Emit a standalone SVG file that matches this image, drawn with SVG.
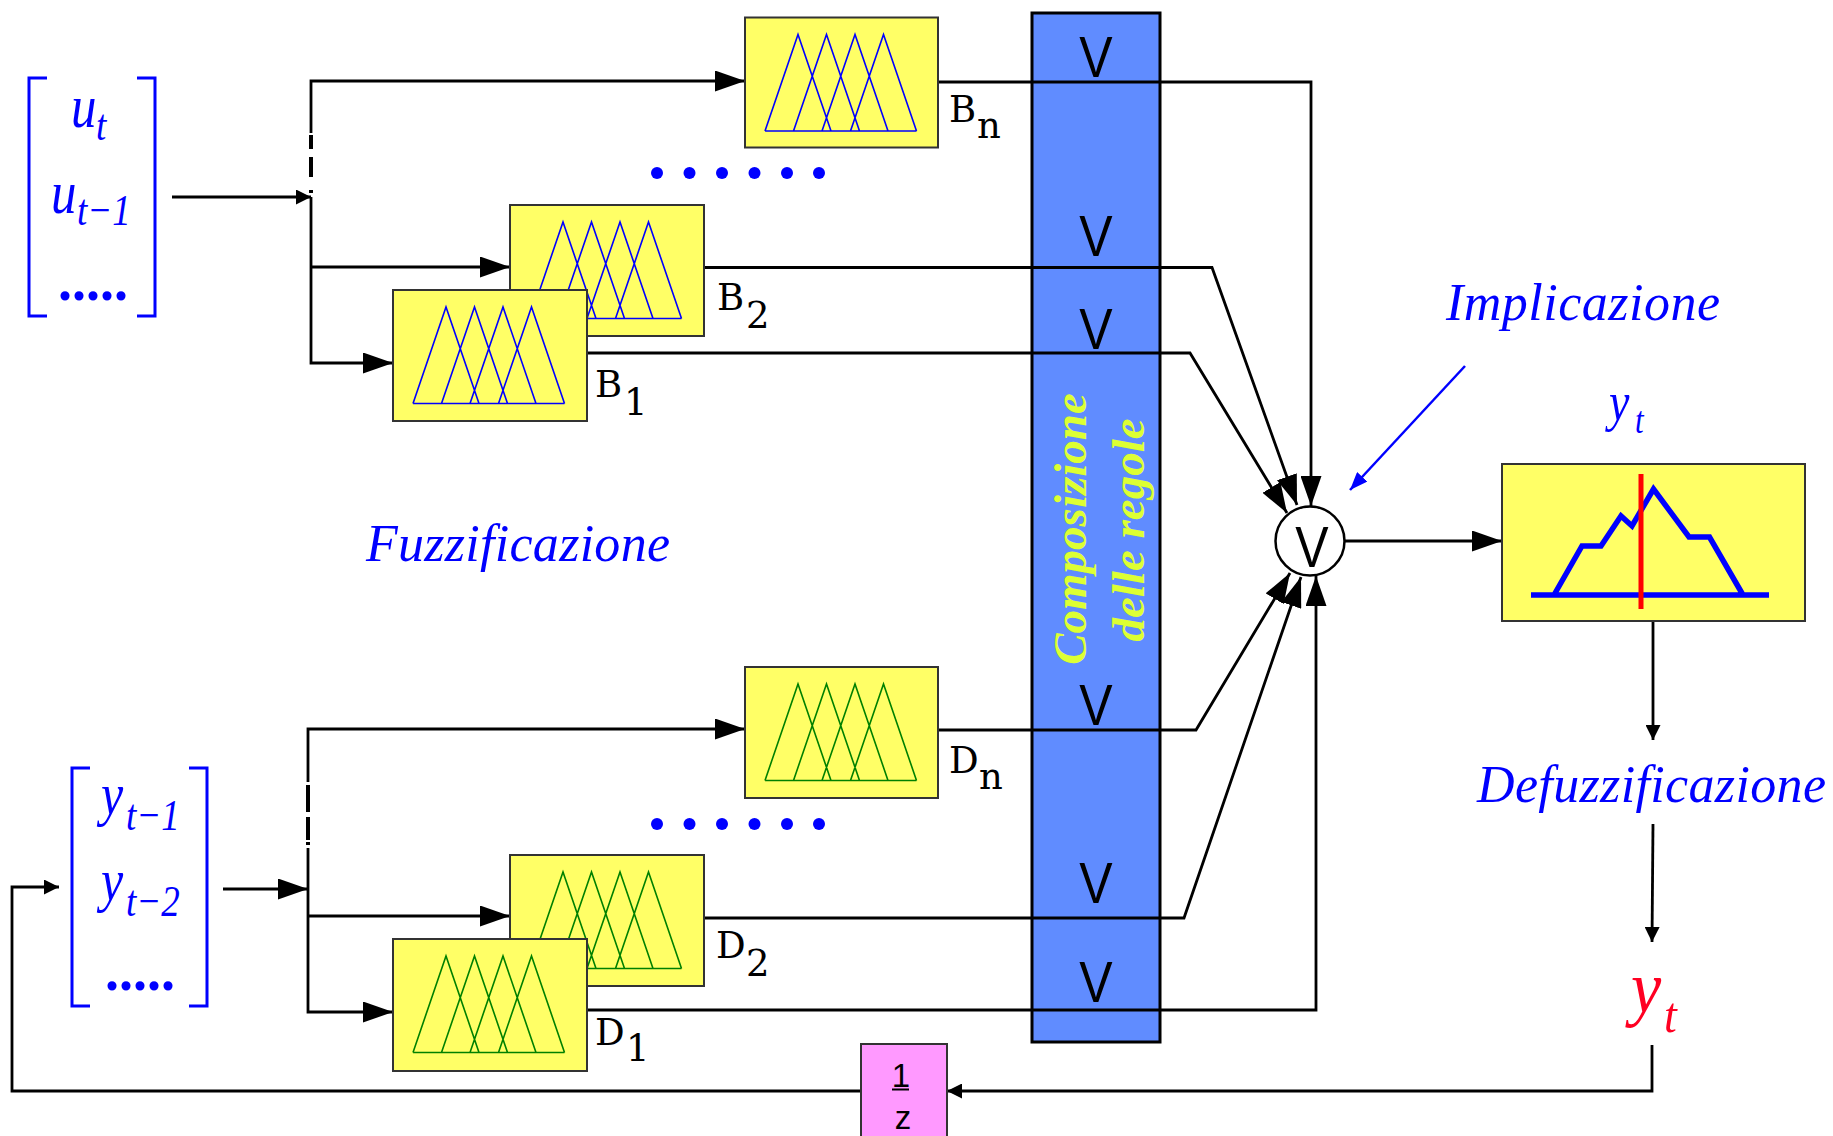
<svg xmlns="http://www.w3.org/2000/svg" xmlns:xlink="http://www.w3.org/1999/xlink" width="1833" height="1136" viewBox="0 0 1833 1136">
<style>
.ln{fill:none;stroke:#000;stroke-width:2.8}
.dash{fill:none;stroke:#000;stroke-width:4}
.br{fill:none;stroke:#0000ff;stroke-width:3}
.ybox{fill:#ffff66;stroke:#333;stroke-width:2}
.trib{fill:none;stroke:#0000ff;stroke-width:1.6}
.trig{fill:none;stroke:#008000;stroke-width:1.6}
.lbl{font-family:'DejaVu Serif',serif;font-size:37px;fill:#000}
.it{font-family:'Liberation Serif','Times New Roman',serif;font-style:italic;fill:#0000ff}
.v{font-family:'Liberation Sans',Arial,sans-serif;font-size:50px;fill:#000;text-anchor:middle}
.rot{font-family:'Liberation Serif','Times New Roman',serif;font-weight:bold;font-style:italic;font-size:47px;fill:#ddff33;text-anchor:middle}
.dot{fill:#0000ff}
.dots{font-family:'Liberation Serif','Times New Roman',serif;font-weight:bold;font-size:56px;fill:#0000ff}
.sans{font-family:'Liberation Sans',Arial,sans-serif;font-size:33px;fill:#000;text-anchor:middle}
</style>
<defs>
<marker id="ah" markerUnits="userSpaceOnUse" markerWidth="30" markerHeight="21" refX="30" refY="10.5" orient="auto" viewBox="0 0 30 21"><path d="M0,0 L30,10.5 L0,21 Z" fill="#000"/></marker>
<marker id="ahs" markerUnits="userSpaceOnUse" markerWidth="15" markerHeight="15" refX="15" refY="7.5" orient="auto" viewBox="0 0 15 15"><path d="M0,0 L15,7.5 L0,15 Z" fill="#000"/></marker>
<marker id="ahb" markerUnits="userSpaceOnUse" markerWidth="18" markerHeight="14" refX="18" refY="7" orient="auto" viewBox="0 0 18 14"><path d="M0,0 L18,7 L0,14 Z" fill="#0000ff"/></marker>
<path id="tri" d="M20,113.5 L53,17 L86,113.5 M48.5,113.5 L81.5,17 L114.5,113.5 M77,113.5 L110,17 L143,113.5 M105.5,113.5 L138.5,17 L171.5,113.5 M20,113.5 H171.5"/>
</defs>
<rect width="1833" height="1136" fill="#fff"/>

<g id="column">
<rect x="1032" y="13" width="128" height="1029" fill="#608cff" stroke="#000" stroke-width="3"/>
<text class="rot" transform="translate(1086,529) rotate(-90)">Composizione</text>
<text class="rot" transform="translate(1144,530) rotate(-90)">delle regole</text>
<text class="v" transform="translate(1096,77) scale(1,1.15)">V</text>
<text class="v" transform="translate(1096,256) scale(1,1.15)">V</text>
<text class="v" transform="translate(1096,349) scale(1,1.15)">V</text>
<text class="v" transform="translate(1096,725) scale(1,1.15)">V</text>
<text class="v" transform="translate(1096,903) scale(1,1.15)">V</text>
<text class="v" transform="translate(1096,1002) scale(1,1.15)">V</text>
</g>

<g id="input-u">
<path class="br" d="M47,78 H29 V316 H47 M137,78 H155 V316 H137"/>
<text class="it" transform="translate(71,127) scale(1,1.22)" font-size="51">u<tspan x="25" y="10.7" font-size="37">t</tspan></text>
<text class="it" transform="translate(51,213) scale(1,1.22)" font-size="51">u<tspan x="26" y="9.8" font-size="37">t−1</tspan></text>
<text class="dots" x="58" y="300">.....</text>
</g>

<g id="input-y">
<path class="br" d="M90,768 H72 V1006 H90 M189,768 H207 V1006 H189"/>
<text class="it" transform="translate(101,814) scale(1,1.2)" font-size="50">y<tspan x="25" y="13" font-size="37">t−1</tspan></text>
<text class="it" transform="translate(101,900) scale(1,1.2)" font-size="50">y<tspan x="25" y="13" font-size="37">t−2</tspan></text>
<text class="dots" x="105" y="990">.....</text>
</g>

<g id="dots-top" class="dot">
<circle cx="657" cy="173" r="6"/><circle cx="689.5" cy="173" r="6"/><circle cx="722" cy="173" r="6"/><circle cx="754.5" cy="173" r="6"/><circle cx="787" cy="173" r="6"/><circle cx="819" cy="173" r="6"/>
</g>
<g id="dots-bottom" class="dot">
<circle cx="657" cy="824" r="6"/><circle cx="689.5" cy="824" r="6"/><circle cx="722" cy="824" r="6"/><circle cx="754.5" cy="824" r="6"/><circle cx="787" cy="824" r="6"/><circle cx="819" cy="824" r="6"/>
</g>

<g id="connectors">
<path class="ln" d="M172,197 H311" marker-end="url(#ahs)"/>
<path class="ln" d="M311,133 V81 H745" marker-end="url(#ah)"/>
<path class="dash" d="M311,135 V149 M311,157 V177 M311,190 V193"/>
<path class="ln" d="M311,197 V363 H393" marker-end="url(#ah)"/>
<path class="ln" d="M311,267 H510" marker-end="url(#ah)"/>
<path class="ln" d="M223,889 H308" marker-end="url(#ah)"/>
<path class="ln" d="M308,782 V729 H745" marker-end="url(#ah)"/>
<path class="dash" d="M308,785 V812 M308,817 V840 M308,842 V845"/>
<path class="ln" d="M308,848 V1012 H393" marker-end="url(#ah)"/>
<path class="ln" d="M308,916 H510" marker-end="url(#ah)"/>
<path class="ln" d="M938,82 H1311 V506" marker-end="url(#ah)"/>
<path class="ln" d="M704,267.5 H1212 L1297,505" marker-end="url(#ah)"/>
<path class="ln" d="M587,353 H1190 L1287,513" marker-end="url(#ah)"/>
<path class="ln" d="M938,730 H1196 L1290,573" marker-end="url(#ah)"/>
<path class="ln" d="M704,918 H1184 L1301,577" marker-end="url(#ah)"/>
<path class="ln" d="M587,1010 H1316 V576" marker-end="url(#ah)"/>
<path class="ln" d="M1345,541 H1502" marker-end="url(#ah)"/>
<path class="ln" d="M1653,621 V740" marker-end="url(#ahs)"/>
<path class="ln" d="M1653,824 L1652,942" marker-end="url(#ahs)"/>
<path class="ln" d="M1652,1045 V1091 H947" marker-end="url(#ahs)"/>
<path class="ln" d="M861,1091 H12 V887 H59" marker-end="url(#ahs)"/>
<path d="M1465,366 L1350,490" fill="none" stroke="#0000ff" stroke-width="2.5" marker-end="url(#ahb)"/>
</g>

<g id="box-Bn">
<rect class="ybox" x="745" y="17.5" width="193" height="130"/>
<use xlink:href="#tri" href="#tri" class="trib" x="745" y="17.5"/>
<text class="lbl" x="949" y="122">B<tspan x="977" y="138">n</tspan></text>
</g>
<g id="box-B2">
<rect class="ybox" x="510" y="205" width="194" height="131"/>
<use xlink:href="#tri" href="#tri" class="trib" x="510" y="205"/>
<text class="lbl" x="717" y="310">B<tspan x="746" y="328">2</tspan></text>
</g>
<g id="box-B1">
<rect class="ybox" x="393" y="290" width="194" height="131"/>
<use xlink:href="#tri" href="#tri" class="trib" x="393" y="290"/>
<text class="lbl" x="595" y="397">B<tspan x="624" y="415">1</tspan></text>
</g>
<g id="box-Dn">
<rect class="ybox" x="745" y="667" width="193" height="131"/>
<use xlink:href="#tri" href="#tri" class="trig" x="745" y="667"/>
<text class="lbl" x="949" y="773">D<tspan x="979" y="789">n</tspan></text>
</g>
<g id="box-D2">
<rect class="ybox" x="510" y="855" width="194" height="131"/>
<use xlink:href="#tri" href="#tri" class="trig" x="510" y="855"/>
<text class="lbl" x="716" y="958">D<tspan x="746" y="976">2</tspan></text>
</g>
<g id="box-D1">
<rect class="ybox" x="393" y="939" width="194" height="132"/>
<use xlink:href="#tri" href="#tri" class="trig" x="393" y="939"/>
<text class="lbl" x="595" y="1045">D<tspan x="626" y="1061">1</tspan></text>
</g>

<g id="or-node">
<circle cx="1310" cy="541" r="34.5" fill="#fff" stroke="#000" stroke-width="2.5"/>
<text class="v" transform="translate(1312,567) scale(1,1.15)">V</text>
</g>

<g id="output-box">
<rect class="ybox" x="1502" y="464" width="303" height="157"/>
<path d="M1531,595 H1769 M1554,595 L1582,546 L1601,546 L1621,516 L1632,526 L1653.5,489 L1689,537 L1709.5,537 L1743,595" fill="none" stroke="#0000ff" stroke-width="5.5"/>
<path d="M1641,474 V609" stroke="#ff0000" stroke-width="5"/>
</g>

<g id="delay">
<rect x="861" y="1044" width="86" height="100" fill="#ff99ff" stroke="#333" stroke-width="2"/>
<text class="sans" x="901" y="1087">1</text>
<path d="M892,1089.5 H909" stroke="#000" stroke-width="2"/>
<text class="sans" x="903" y="1129">z</text>
</g>

<g id="labels">
<text class="it" x="366" y="561" font-size="52" textLength="304">Fuzzificazione</text>
<text class="it" x="1446" y="320" font-size="52" textLength="274">Implicazione</text>
<text class="it" x="1477" y="802" font-size="52" textLength="349">Defuzzificazione</text>
<text class="it" transform="translate(1609,420) scale(1,1.2)" font-size="46">y<tspan x="26" y="11" font-size="31">t</tspan></text>
<text class="it" transform="translate(1631,1012) scale(1,1.1)" font-size="68" style="fill:#ff0022">y<tspan x="33" y="18" font-size="46">t</tspan></text>
</g>
</svg>
